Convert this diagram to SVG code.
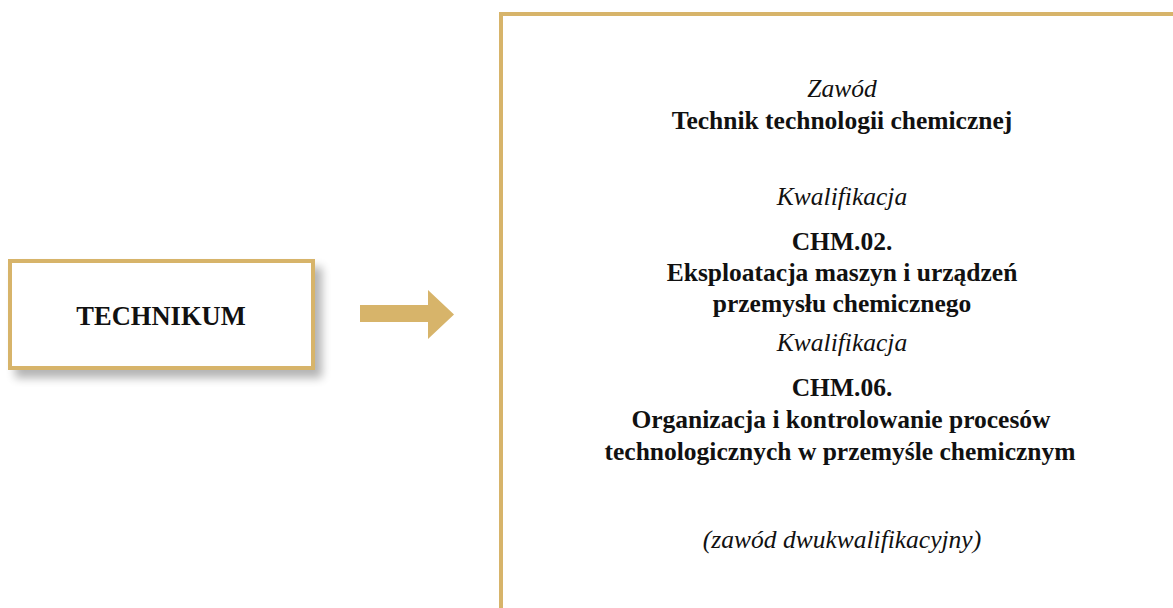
<svg xmlns="http://www.w3.org/2000/svg" width="1173" height="608" viewBox="0 0 1173 608">
<style>
.box{fill:#fff;stroke:#d7b46a;stroke-width:4}
.t{font-family:"Liberation Serif",serif;font-size:25.5px;fill:#111;text-anchor:middle}
.b{font-weight:bold}
.i{font-style:italic}
</style>
<defs>
<filter id="sh" x="-20%" y="-20%" width="150%" height="160%">
<feGaussianBlur in="SourceAlpha" stdDeviation="5"/>
<feOffset dx="7" dy="8"/>
<feComponentTransfer><feFuncA type="linear" slope="0.3"/></feComponentTransfer>
<feMerge><feMergeNode/><feMergeNode in="SourceGraphic"/></feMerge>
</filter>
</defs>
<rect width="1173" height="608" fill="#fff"/>
<g id="technikum">
<rect class="box" x="10" y="261" width="303" height="107" filter="url(#sh)"/>
<text class="t b" x="161" y="325" style="font-size:26.5px">TECHNIKUM</text>
</g>
<g id="connectors">
<path d="M360 305 H428 V290 L454 314.5 L428 339 V322 H360 Z" fill="#d7b46a"/>
</g>
<g id="zawod">
<path d="M501 608 V14 H1175" fill="none" stroke="#d7b46a" stroke-width="4"/>
<text class="t i" x="842" y="97">Zawód</text>
<text class="t b" x="842" y="129">Technik technologii chemicznej</text>
<text class="t i" x="842" y="205">Kwalifikacja</text>
<text class="t b" x="842" y="250">CHM.02.</text>
<text class="t b" x="842" y="281">Eksploatacja maszyn i urządzeń</text>
<text class="t b" x="842" y="312">przemysłu chemicznego</text>
<text class="t i" x="842" y="351">Kwalifikacja</text>
<text class="t b" x="842" y="396">CHM.06.</text>
<text class="t b" x="841" y="428">Organizacja i kontrolowanie procesów</text>
<text class="t b" x="840" y="460">technologicznych w przemyśle chemicznym</text>
<text class="t i" x="842" y="548">(zawód dwukwalifikacyjny)</text>
</g>
</svg>
